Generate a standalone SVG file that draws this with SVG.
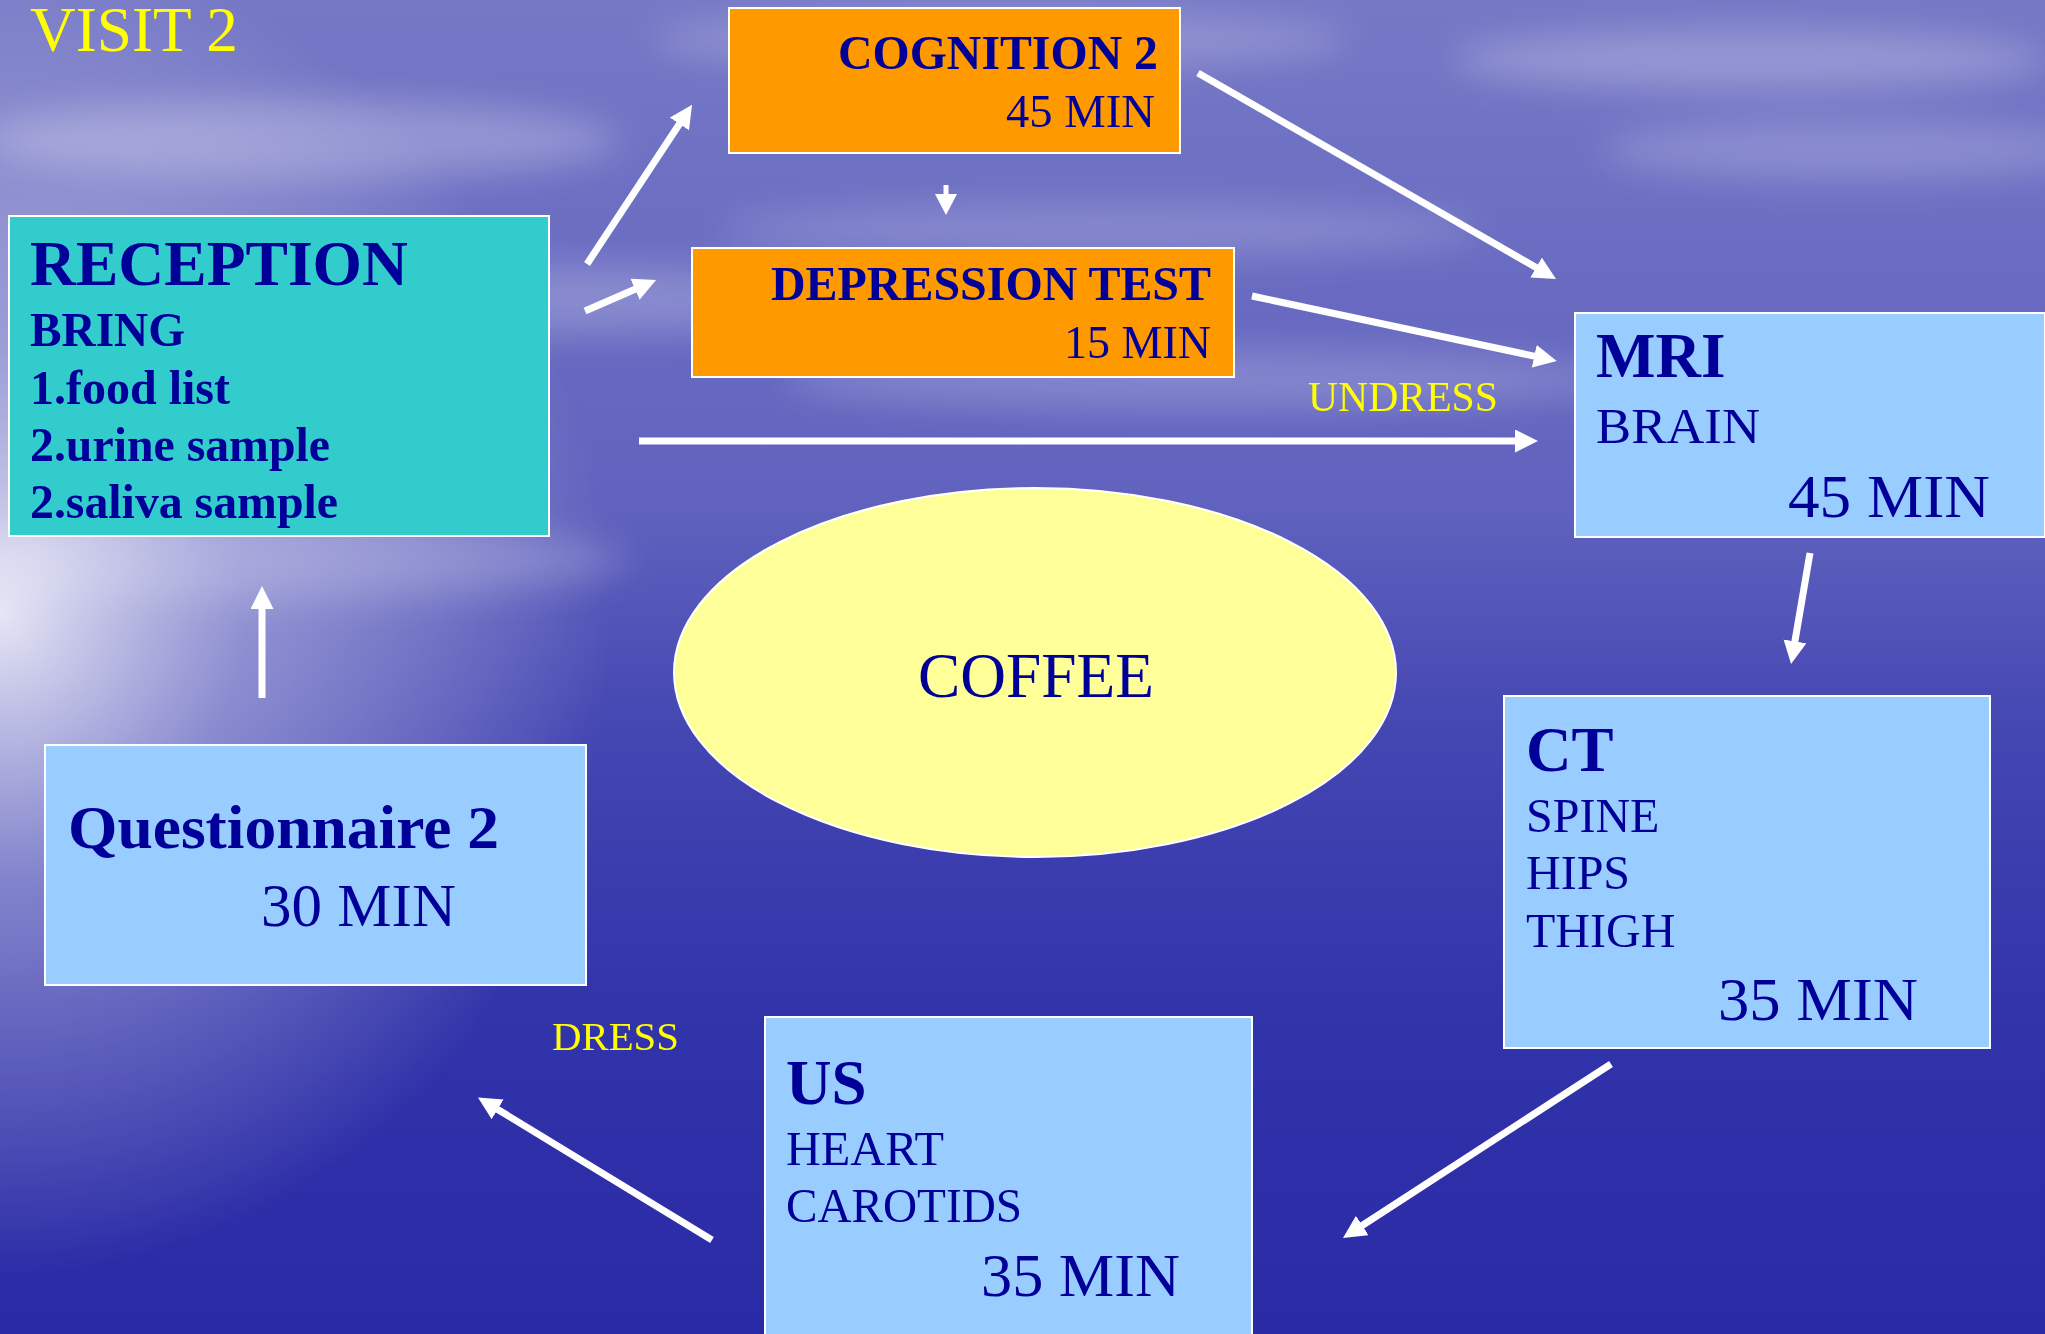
<svg xmlns="http://www.w3.org/2000/svg" width="2045" height="1334" viewBox="0 0 2045 1334">
  <defs>
    <linearGradient id="bg" x1="0" y1="0" x2="0" y2="1">
      <stop offset="0" stop-color="#7678c6"/>
      <stop offset="0.2" stop-color="#6a6cc2"/>
      <stop offset="0.38" stop-color="#6062be"/>
      <stop offset="0.55" stop-color="#4446b2"/>
      <stop offset="0.75" stop-color="#3234aa"/>
      <stop offset="1" stop-color="#2a2aa6"/>
    </linearGradient>
    <radialGradient id="glow" cx="0" cy="0.46" r="0.5" gradientUnits="objectBoundingBox" gradientTransform="scale(0.6,1)">
      <stop offset="0" stop-color="#ffffff" stop-opacity="0.85"/>
      <stop offset="0.4" stop-color="#e6e6f6" stop-opacity="0.42"/>
      <stop offset="1" stop-color="#ffffff" stop-opacity="0"/>
    </radialGradient>
    <filter id="blur" x="-20%" y="-50%" width="140%" height="200%">
      <feGaussianBlur stdDeviation="18"/>
    </filter>
    <marker id="ah" markerUnits="userSpaceOnUse" markerWidth="24" markerHeight="24" refX="12" refY="11.5" orient="auto" viewBox="0 0 24 24">
      <path d="M0,0 L23,11.5 L0,23 z" fill="#ffffff"/>
    </marker>
    <marker id="ahs" markerUnits="userSpaceOnUse" markerWidth="24" markerHeight="24" refX="10" refY="11" orient="auto" viewBox="0 0 24 24">
      <path d="M0,0 L21,11 L0,22 z" fill="#ffffff"/>
    </marker>
  </defs>
  <style>
    .t { font-family: "Liberation Serif", "Times New Roman", serif; fill: #000099; }
    .b { font-weight: bold; }
    .y { font-family: "Liberation Serif", "Times New Roman", serif; fill: #ffff00; }
    .box { stroke: #ffffff; stroke-width: 2; }
    .conn { stroke: #ffffff; stroke-width: 7; fill: none; marker-end: url(#ah); }
  </style>

  <!-- background -->
  <rect x="0" y="0" width="2045" height="1334" fill="url(#bg)"/>
  <g filter="url(#blur)" fill="#ffffff">
    <ellipse cx="300" cy="140" rx="320" ry="40" opacity="0.25"/>
    <ellipse cx="500" cy="300" rx="420" ry="35" opacity="0.22"/>
    <ellipse cx="1000" cy="40" rx="350" ry="30" opacity="0.2"/>
    <ellipse cx="1750" cy="60" rx="300" ry="30" opacity="0.25"/>
    <ellipse cx="1850" cy="150" rx="250" ry="30" opacity="0.2"/>
    <ellipse cx="1100" cy="230" rx="380" ry="28" opacity="0.18"/>
    <ellipse cx="1200" cy="380" rx="420" ry="30" opacity="0.2"/>
    <ellipse cx="250" cy="560" rx="380" ry="40" opacity="0.2"/>
  </g>
  <rect x="0" y="0" width="2045" height="1334" fill="url(#glow)"/>

  <text class="y" x="30" y="51" font-size="64" textLength="208" lengthAdjust="spacingAndGlyphs">VISIT 2</text>

  <!-- connectors -->
  <g id="connectors">
    <line class="conn" x1="262" y1="698" x2="262" y2="597"/>
    <line class="conn" x1="587" y1="264" x2="686" y2="114"/>
    <line class="conn" x1="585" y1="311" x2="646" y2="284.5"/>
    <line class="conn" x1="639" y1="441" x2="1527" y2="441"/>
    <line x1="946" y1="185" x2="946" y2="204" stroke="#ffffff" stroke-width="5" marker-end="url(#ahs)"/>
    <line class="conn" x1="1198" y1="73" x2="1546.5" y2="273.5"/>
    <line class="conn" x1="1252" y1="296" x2="1546" y2="358.7"/>
    <line class="conn" x1="1810" y1="553" x2="1792.9" y2="653.2"/>
    <line class="conn" x1="1611" y1="1064" x2="1352.2" y2="1232"/>
    <line class="conn" x1="712" y1="1240" x2="487.4" y2="1103.2"/>
    <text class="y" x="1308" y="411" font-size="42" textLength="190" lengthAdjust="spacingAndGlyphs">UNDRESS</text>
    <text class="y" x="552" y="1050" font-size="41" textLength="127" lengthAdjust="spacingAndGlyphs">DRESS</text>
  </g>

  <g id="reception">
    <rect class="box" x="9" y="216" width="540" height="320" fill="#33cccc"/>
    <text class="t b" x="30" y="285" font-size="63" textLength="378" lengthAdjust="spacingAndGlyphs">RECEPTION</text>
    <text class="t b" x="30" y="346" font-size="48" textLength="155" lengthAdjust="spacingAndGlyphs">BRING</text>
    <text class="t b" x="30" y="404" font-size="48" textLength="200" lengthAdjust="spacingAndGlyphs">1.food list</text>
    <text class="t b" x="30" y="461" font-size="48" textLength="300" lengthAdjust="spacingAndGlyphs">2.urine sample</text>
    <text class="t b" x="30" y="518" font-size="48" textLength="308" lengthAdjust="spacingAndGlyphs">2.saliva sample</text>
  </g>

  <g id="cognition">
    <rect class="box" x="729" y="8" width="451" height="145" fill="#ff9900"/>
    <text class="t b" x="1158" y="69" font-size="49" text-anchor="end" textLength="320" lengthAdjust="spacingAndGlyphs">COGNITION 2</text>
    <text class="t" x="1155" y="127" font-size="46" text-anchor="end" textLength="149" lengthAdjust="spacingAndGlyphs">45 MIN</text>
  </g>

  <g id="depression">
    <rect class="box" x="692" y="248" width="542" height="129" fill="#ff9900"/>
    <text class="t b" x="1211" y="300" font-size="48" text-anchor="end" textLength="440" lengthAdjust="spacingAndGlyphs">DEPRESSION TEST</text>
    <text class="t" x="1211" y="358" font-size="46" text-anchor="end" textLength="147" lengthAdjust="spacingAndGlyphs">15 MIN</text>
  </g>

  <g id="mri">
    <rect class="box" x="1575" y="313" width="470" height="224" fill="#99ccff"/>
    <text class="t b" x="1596" y="377" font-size="63">MRI</text>
    <text class="t" x="1596" y="443" font-size="50" textLength="164" lengthAdjust="spacingAndGlyphs">BRAIN</text>
    <text class="t" x="1788" y="517" font-size="62" textLength="202" lengthAdjust="spacingAndGlyphs">45 MIN</text>
  </g>

  <g id="ct">
    <rect class="box" x="1504" y="696" width="486" height="352" fill="#99ccff"/>
    <text class="t b" x="1526" y="771" font-size="63">CT</text>
    <text class="t" x="1526" y="832" font-size="48">SPINE</text>
    <text class="t" x="1526" y="889" font-size="48">HIPS</text>
    <text class="t" x="1526" y="947" font-size="48">THIGH</text>
    <text class="t" x="1718" y="1020" font-size="62" textLength="200" lengthAdjust="spacingAndGlyphs">35 MIN</text>
  </g>

  <g id="us">
    <rect class="box" x="765" y="1017" width="487" height="330" fill="#99ccff"/>
    <text class="t b" x="786" y="1104" font-size="63">US</text>
    <text class="t" x="786" y="1165" font-size="48" textLength="158" lengthAdjust="spacingAndGlyphs">HEART</text>
    <text class="t" x="786" y="1222" font-size="48" textLength="236" lengthAdjust="spacingAndGlyphs">CAROTIDS</text>
    <text class="t" x="981" y="1296" font-size="62" textLength="199" lengthAdjust="spacingAndGlyphs">35 MIN</text>
  </g>

  <g id="questionnaire">
    <rect class="box" x="45" y="745" width="541" height="240" fill="#99ccff"/>
    <text class="t b" x="68" y="848" font-size="62" textLength="431" lengthAdjust="spacingAndGlyphs">Questionnaire 2</text>
    <text class="t" x="261" y="926" font-size="62" textLength="195" lengthAdjust="spacingAndGlyphs">30 MIN</text>
  </g>

  <g id="coffee">
    <ellipse cx="1035" cy="672.5" rx="361" ry="184.5" fill="#ffff99" stroke="#ffffff" stroke-width="2"/>
    <text class="t" x="918" y="697" font-size="64" textLength="236" lengthAdjust="spacingAndGlyphs">COFFEE</text>
  </g>
</svg>
